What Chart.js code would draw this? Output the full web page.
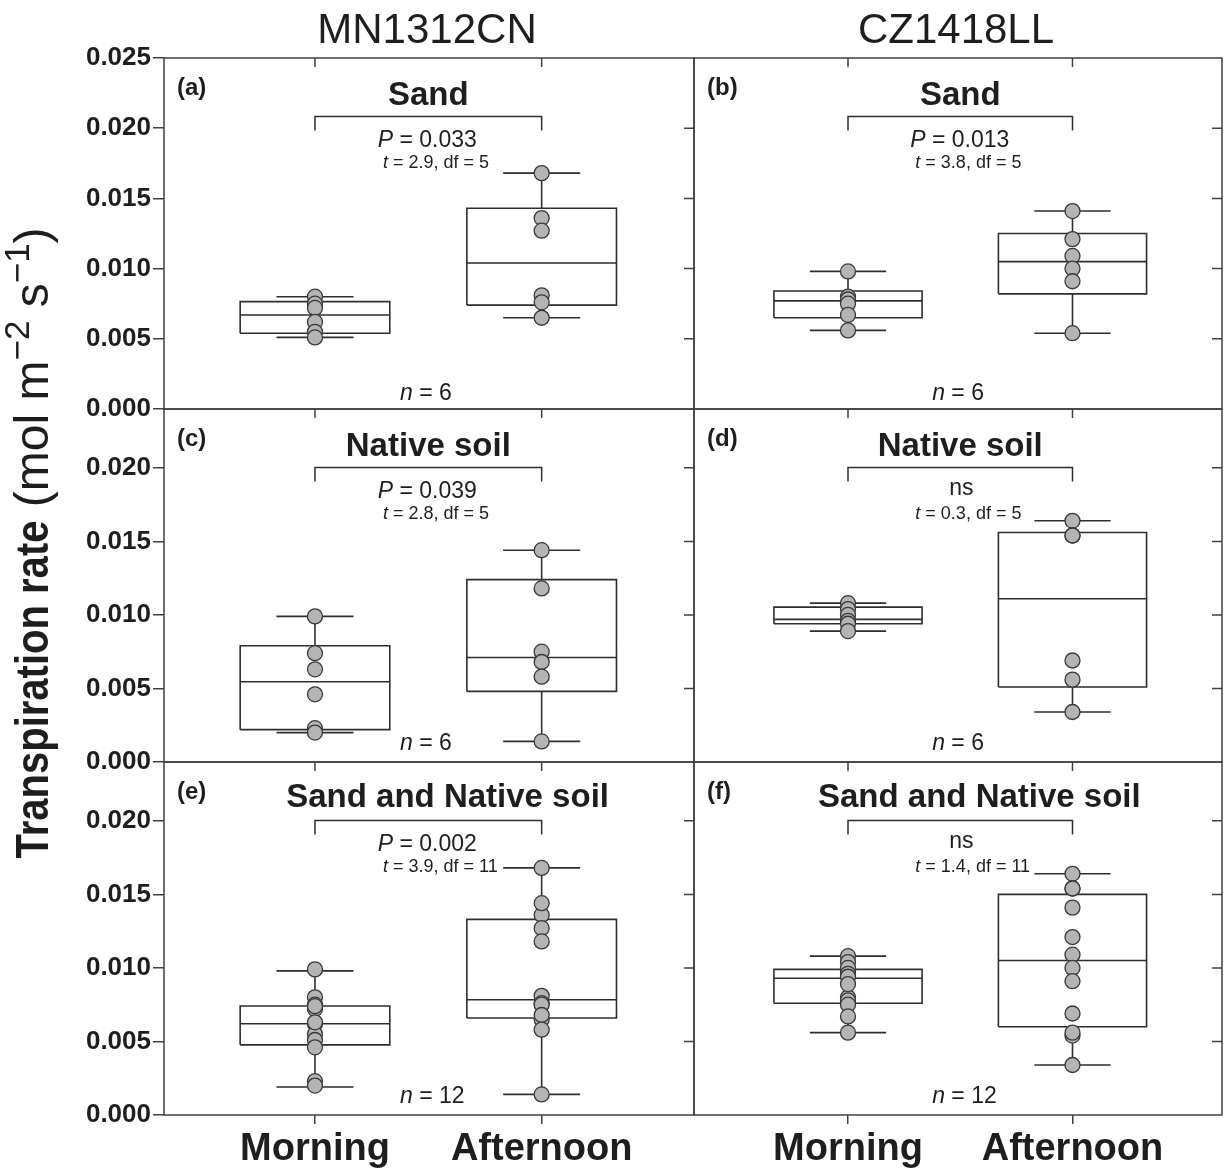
<!DOCTYPE html>
<html>
<head>
<meta charset="utf-8">
<script src="https://cdn.jsdelivr.net/npm/chart.js@4.4.1/dist/chart.umd.min.js"></script>
<style>
  body { margin: 0; background: #fff; }
  #wrap { position: relative; width: 1225px; height: 1169px; overflow: hidden; background: #fff; }
  #wrap canvas { position: absolute; left: 0; top: 0; }
</style>
</head>
<body>
<div id="wrap"></div>
<script>
// ---- data ----
const categories = ['Morning', 'Afternoon'];
const columnTitles = ['MN1312CN', 'CZ1418LL'];
const yTicksTop = [0, 0.005, 0.010, 0.015, 0.020, 0.025];
const yTicksLower = [0, 0.005, 0.010, 0.015, 0.020];

// individual plants, [morning, afternoon]
const ptsA = [[0.0080, 0.0075, 0.0072, 0.0062, 0.0055, 0.0051], [0.0168, 0.0136, 0.0127, 0.0081, 0.0076, 0.0065]];
const ptsB = [[0.0098, 0.0080, 0.0078, 0.0075, 0.0067, 0.0056], [0.0141, 0.0121, 0.0109, 0.0100, 0.0091, 0.0054]];
const ptsC = [[0.0099, 0.0074, 0.0063, 0.0046, 0.0023, 0.0020], [0.0144, 0.0118, 0.0075, 0.0068, 0.0058, 0.0014]];
const ptsD = [[0.0108, 0.0104, 0.0100, 0.0096, 0.0094, 0.0089], [0.0164, 0.0154, 0.0154, 0.0069, 0.0056, 0.0034]];
const ptsE = [[0.0080, 0.0075, 0.0072, 0.0062, 0.0055, 0.0051, 0.0099, 0.0074, 0.0063, 0.0046, 0.0023, 0.0020],
              [0.0168, 0.0136, 0.0127, 0.0081, 0.0076, 0.0065, 0.0144, 0.0118, 0.0075, 0.0068, 0.0058, 0.0014]];
const ptsF = [[0.0098, 0.0080, 0.0078, 0.0075, 0.0067, 0.0056, 0.0108, 0.0104, 0.0100, 0.0096, 0.0094, 0.0089],
              [0.0141, 0.0121, 0.0109, 0.0100, 0.0091, 0.0054, 0.0164, 0.0154, 0.0154, 0.0069, 0.0056, 0.0034]];

// box stats: [low whisker, Q1, median, Q3, high whisker]
const boxA = [[0.0051, 0.0054, 0.0067, 0.00765, 0.0080], [0.0065, 0.0074, 0.0104, 0.0143, 0.0168]];
const boxB = [[0.0056, 0.0065, 0.0077, 0.0084, 0.0098], [0.0054, 0.0082, 0.0105, 0.0125, 0.0141]];
const boxC = [[0.0020, 0.0022, 0.00546, 0.0079, 0.0099], [0.0014, 0.0048, 0.0071, 0.0124, 0.0144]];
const boxD = [[0.0089, 0.0094, 0.0097, 0.01053, 0.0108], [0.0034, 0.0051, 0.0111, 0.0156, 0.0164]];
const boxE = [[0.0019, 0.00477, 0.0062, 0.00741, 0.0098], [0.0014, 0.0066, 0.00784, 0.0133, 0.0168]];
const boxF = [[0.0056, 0.0076, 0.0093, 0.0099, 0.0108], [0.0034, 0.0060, 0.0105, 0.0150, 0.0164]];

const panelLetters = ['(a)', '(b)', '(c)', '(d)', '(e)', '(f)'];
const panelTitles = ['Sand', 'Sand', 'Native soil', 'Native soil', 'Sand and Native soil', 'Sand and Native soil'];
const pLabels = ['0.033', '0.013', '0.039', 'ns', '0.002', 'ns'];
const tLabels = ['2.9', '3.8', '2.8', '0.3', '3.9', '1.4'];
const dfLabels = ['5', '5', '5', '5', '11', '11'];
const nLabels = ['6', '6', '6', '6', '12', '12'];

// ---- layout ----
const W = 1225, H = 1169;
const FAMILY = '"Liberation Sans", Arial, Helvetica, sans-serif';
const TEXT = '#1e1e1e';
const FRAME = '#404040';
const LINE = '#2e2e2e';
const rowTop = [58, 409, 762];
const rowBottom = [409, 762, 1115];
const colLeft = [164, 694];
const colRight = [694, 1222];
const xRange = [[0.334, 2.672], [0.314, 2.666]];
const BOX_HW = 0.33, CAP_HW = 0.17;

const allPts = [ptsA, ptsB, ptsC, ptsD, ptsE, ptsF];
const allBox = [boxA, boxB, boxC, boxD, boxE, boxF];

// draws a line of mixed-style text; runs may carry a vertical shift (dy) and a horizontal squeeze (sx)
function drawRuns(ctx, runs, x, y, align) {
    let total = 0;
    runs.forEach(r => {
        ctx.font = r.font;
        r.w = ctx.measureText(r.text).width * (r.sx || 1);
        total += r.w;
    });
    let cx = align === 'center' ? x - total / 2 : x;
    ctx.textAlign = 'left';
    runs.forEach(r => {
        ctx.font = r.font;
        ctx.save();
        ctx.translate(cx, y + (r.dy || 0));
        ctx.scale(r.sx || 1, 1);
        ctx.fillText(r.text, 0, 0);
        ctx.restore();
        cx += r.w;
    });
}

function buildDatasets(box, pts) {
    const outline = [], medians = [], whiskers = [], dots = [];
    box.forEach((s, i) => {
        const x = i + 1;
        const [lo, q1, med, q3, hi] = s;
        outline.push({ x: x - BOX_HW, y: q1 }, { x: x + BOX_HW, y: q1 }, { x: x + BOX_HW, y: q3 },
            { x: x - BOX_HW, y: q3 }, { x: x - BOX_HW, y: q1 }, { x: x, y: null });
        medians.push({ x: x - BOX_HW, y: med }, { x: x + BOX_HW, y: med }, { x: x, y: null });
        whiskers.push({ x: x, y: q3 }, { x: x, y: hi }, { x: x, y: null },
            { x: x, y: q1 }, { x: x, y: lo }, { x: x, y: null },
            { x: x - CAP_HW, y: hi }, { x: x + CAP_HW, y: hi }, { x: x, y: null },
            { x: x - CAP_HW, y: lo }, { x: x + CAP_HW, y: lo }, { x: x, y: null });
    });
    pts.forEach((vals, i) => vals.forEach(v => dots.push({ x: i + 1, y: v })));

    const lineStyle = {
        showLine: true, pointRadius: 0, borderColor: LINE, borderWidth: 1.6,
        spanGaps: false, borderJoinStyle: 'miter', borderCapStyle: 'butt', order: 2
    };
    return [
        {
            data: dots, pointRadius: 7.5, pointBackgroundColor: '#b4b4b4',
            pointBorderColor: '#383838', pointBorderWidth: 1.3, showLine: false, order: 0
        },
        Object.assign({ data: outline }, lineStyle),
        Object.assign({ data: medians }, lineStyle),
        Object.assign({ data: whiskers }, lineStyle)
    ];
}

const decor = {
    id: 'decor',
    afterDraw(chart, args, o) {
        const ctx = chart.ctx;
        const a = chart.chartArea;
        const xs = chart.scales.x, ys = chart.scales.y;
        const k = o.index;
        ctx.save();
        // frame
        ctx.strokeStyle = FRAME;
        ctx.lineWidth = 1.5;
        ctx.strokeRect(a.left, a.top, a.right - a.left, a.bottom - a.top);
        // inward ticks: top (at categories) and right (y steps)
        ctx.beginPath();
        [1, 2].forEach(v => {
            const px = xs.getPixelForValue(v);
            ctx.moveTo(px, a.top);
            ctx.lineTo(px, a.top + 9);
        });
        o.yTicks.forEach(v => {
            if (v <= 0 || v >= ys.max) return;
            const py = ys.getPixelForValue(v);
            ctx.moveTo(a.right, py);
            ctx.lineTo(a.right - 10, py);
        });
        ctx.stroke();

        // significance bracket
        const x1 = xs.getPixelForValue(1), x2 = xs.getPixelForValue(2);
        const by = a.top + 58.5;
        ctx.strokeStyle = LINE;
        ctx.beginPath();
        ctx.moveTo(x1, by + 14);
        ctx.lineTo(x1, by);
        ctx.lineTo(x2, by);
        ctx.lineTo(x2, by + 14);
        ctx.stroke();

        ctx.fillStyle = TEXT;
        ctx.textBaseline = 'alphabetic';
        // panel letter
        drawRuns(ctx, [{ text: panelLetters[k], font: 'bold 24px ' + FAMILY }], a.left + 13, a.top + 37, 'left');
        // panel title
        const tx = xs.getPixelForValue(o.row === 2 ? 1.585 : 1.5);
        drawRuns(ctx, [{ text: panelTitles[k], font: 'bold 33px ' + FAMILY }], tx, a.top + (o.row === 2 ? 45 : 47), 'center');
        // P value or ns
        if (pLabels[k] === 'ns') {
            drawRuns(ctx, [{ text: 'ns', font: '23px ' + FAMILY }], xs.getPixelForValue(1.505), a.top + 86, 'center');
        } else {
            drawRuns(ctx, [
                { text: 'P', font: 'italic 23px ' + FAMILY },
                { text: ' = ' + pLabels[k], font: '23px ' + FAMILY }
            ], xs.getPixelForValue(1.277), a.top + 89, 'left');
        }
        // t statistic
        drawRuns(ctx, [
            { text: 't', font: 'italic 18px ' + FAMILY },
            { text: ' = ' + tLabels[k] + ', df = ' + dfLabels[k], font: '18px ' + FAMILY }
        ], xs.getPixelForValue(1.30), a.top + 110, 'left');
        // sample size
        drawRuns(ctx, [
            { text: 'n', font: 'italic 23px ' + FAMILY },
            { text: ' = ' + nLabels[k], font: '23px ' + FAMILY }
        ], xs.getPixelForValue(1.375), a.bottom - (o.row === 0 ? 9 : 12), 'left');

        // column title
        if (o.row === 0) {
            drawRuns(ctx, [{ text: columnTitles[o.col], font: '42px ' + FAMILY }], (a.left + a.right) / 2 - 2, 43, 'center');
        }
        // shared y axis title
        if (o.row === 1 && o.col === 0) {
            ctx.translate(48, 543);
            ctx.rotate(-Math.PI / 2);
            drawRuns(ctx, [
                { text: 'Transpiration rate', font: 'bold 46px ' + FAMILY, sx: 0.87 },
                { text: ' (mol m', font: '48px ' + FAMILY },
                { text: '\u22122', font: '35px ' + FAMILY, dy: -19 },
                { text: ' s', font: '48px ' + FAMILY },
                { text: '\u22121', font: '35px ' + FAMILY, dy: -19 },
                { text: ')', font: '48px ' + FAMILY }
            ], 0, 0, 'center');
        }
        ctx.restore();
    }
};

const wrap = document.getElementById('wrap');
for (let k = 0; k < 6; k++) {
    const row = Math.floor(k / 2), col = k % 2;
    const canvas = document.createElement('canvas');
    canvas.width = W;
    canvas.height = H;
    canvas.style.width = W + 'px';
    canvas.style.height = H + 'px';
    wrap.appendChild(canvas);

    const yMax = row === 0 ? 0.025 : 0.024;
    const yTicks = row === 0 ? yTicksTop : yTicksLower;
    const showX = row === 2, showY = col === 0;

    new Chart(canvas, {
        type: 'scatter',
        data: { datasets: buildDatasets(allBox[k], allPts[k]) },
        options: {
            responsive: false,
            animation: false,
            events: [],
            layout: {
                autoPadding: false,
                padding: {
                    left: showY ? 0 : colLeft[1],
                    right: W - colRight[col],
                    top: rowTop[row],
                    bottom: showX ? 0 : H - rowBottom[row]
                }
            },
            plugins: {
                legend: { display: false },
                tooltip: { enabled: false },
                decor: { index: k, row: row, col: col, yTicks: yTicks }
            },
            scales: {
                x: {
                    type: 'linear',
                    min: xRange[col][0],
                    max: xRange[col][1],
                    display: showX,
                    afterBuildTicks: s => { s.ticks = categories.map((c, i) => ({ value: i + 1 })); },
                    afterFit: s => { s.height = showX ? 54 : 0; },
                    ticks: {
                        callback: v => categories[v - 1],
                        font: { family: FAMILY, size: 38, weight: 'bold' },
                        color: TEXT,
                        padding: 3,
                        maxRotation: 0,
                        autoSkip: false
                    },
                    grid: { drawOnChartArea: false, tickLength: 9, color: FRAME, lineWidth: 1.5 },
                    border: { display: false }
                },
                y: {
                    type: 'linear',
                    min: 0,
                    max: yMax,
                    display: showY,
                    afterBuildTicks: s => { s.ticks = yTicks.map(v => ({ value: v })); },
                    afterFit: s => { s.width = showY ? colLeft[0] : 0; },
                    ticks: {
                        callback: v => v.toFixed(3),
                        font: { family: FAMILY, size: 26, weight: 'bold' },
                        color: TEXT,
                        padding: 2
                    },
                    grid: { drawOnChartArea: false, tickLength: 11, color: FRAME, lineWidth: 1.5 },
                    border: { display: false }
                }
            }
        },
        plugins: [decor]
    });
}
</script>
</body>
</html>
